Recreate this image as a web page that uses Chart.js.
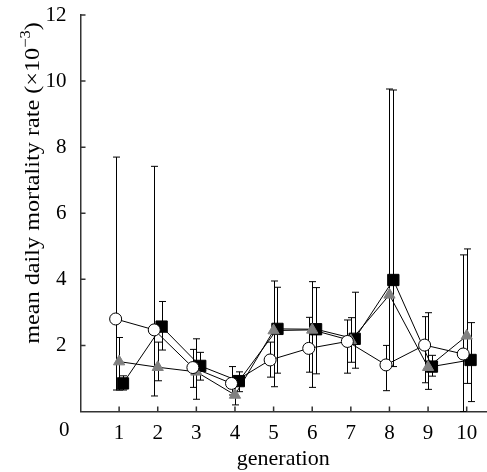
<!DOCTYPE html>
<html>
<head>
<meta charset="utf-8">
<script src="https://cdn.jsdelivr.net/npm/chart.js@4/dist/chart.umd.min.js"></script>
<style>
  body { margin: 0; background: #fff; }
  #wrap { width: 487px; height: 472px; }
</style>
</head>
<body>
<div id="wrap"><canvas id="chart" width="487" height="472"></canvas></div>
<script>
// Data (mortality rate x10^-3)
const generations = [1, 2, 3, 4, 5, 6, 7, 8, 9, 10];

const circleMean = [2.80, 2.47, 1.33, 0.85, 1.56, 1.91, 2.12, 1.41, 2.01, 1.74];
const circleLow  = [0.65, 0.47, 0.73, 0.50, 1.04, 1.19, 1.16, 0.63, 0.87, 0.00];
const circleHigh = [7.70, 7.42, 1.88, 1.36, 2.10, 2.85, 2.77, 2.00, 2.87, 4.74];

const triangleMean = [1.51, 1.34, 1.20, 0.50, 2.45, 2.47, 2.15, 3.53, 1.34, 2.29];
const triangleLow  = [0.65, 0.93, 0.37, 0.20, 0.75, 0.73, 1.49, 1.38, 0.67, 0.85];
const triangleHigh = [2.24, 2.10, 2.20, 0.90, 3.95, 3.93, 2.84, 9.76, 2.99, 4.92];

const squareMean = [0.85, 2.57, 1.38, 0.92, 2.50, 2.49, 2.20, 3.98, 1.36, 1.56];
const squareLow  = [0.65, 1.86, 0.95, 0.60, 1.16, 1.14, 1.31, 1.36, 1.07, 0.30];
const squareHigh = [1.08, 3.33, 1.79, 1.20, 3.76, 3.75, 3.61, 9.73, 1.70, 2.69];

const yTicks = [2, 4, 6, 8, 10, 12];

const FONT = "'Liberation Serif', 'DejaVu Serif', serif";

// small horizontal dodge so the three series don't sit on top of each other
function points(mean, low, high, dodge) {
    return generations.map((g, i) => ({ x: g + dodge, y: mean[i], lo: low[i], hi: high[i] }));
}

const errorBars = {
    id: 'errorBars',
    beforeDatasetsDraw(chart) {
        const { ctx, scales: { x, y } } = chart;
        ctx.save();
        ctx.strokeStyle = '#000';
        ctx.lineWidth = 1;
        chart.data.datasets.forEach(ds => {
            ds.data.forEach(p => {
                const px = Math.round(x.getPixelForValue(p.x)) + 0.5;
                const top = y.getPixelForValue(p.hi);
                const bot = y.getPixelForValue(p.lo);
                ctx.beginPath();
                ctx.moveTo(px, top);
                ctx.lineTo(px, bot);
                ctx.moveTo(px - 3.5, top);
                ctx.lineTo(px + 3.5, top);
                ctx.moveTo(px - 3.5, bot);
                ctx.lineTo(px + 3.5, bot);
                ctx.stroke();
            });
        });
        ctx.restore();
    }
};

// inward ticks, the shared origin "0" and the y title with superscript
const axisExtras = {
    id: 'axisExtras',
    afterDraw(chart) {
        const { ctx, scales: { x, y } } = chart;
        ctx.save();
        ctx.strokeStyle = '#333';
        ctx.lineWidth = 1.5;
        ctx.beginPath();
        generations.forEach(g => {
            const px = x.getPixelForValue(g);
            ctx.moveTo(px, y.bottom);
            ctx.lineTo(px, y.bottom - 5);
        });
        yTicks.forEach(v => {
            const py = y.getPixelForValue(v);
            ctx.moveTo(x.left, py);
            ctx.lineTo(x.left + 5, py);
        });
        ctx.stroke();

        ctx.fillStyle = '#000';
        ctx.font = '21px ' + FONT;
        ctx.textAlign = 'right';
        ctx.textBaseline = 'middle';
        ctx.fillText('0', x.left - 11, y.bottom + 19);

        // y title, slightly widened like the original typeface
        const main = 'mean daily mortality rate (\u00d710';
        const sup = '\u22123';
        const close = ')';
        ctx.translate(31, 183);
        ctx.rotate(-Math.PI / 2);
        ctx.scale(1.1, 1);
        ctx.textAlign = 'left';
        ctx.textBaseline = 'alphabetic';
        ctx.font = '22px ' + FONT;
        const wMain = ctx.measureText(main).width;
        const wClose = ctx.measureText(close).width;
        ctx.font = '15px ' + FONT;
        const wSup = ctx.measureText(sup).width;
        let cx = -(wMain + wSup + wClose) / 2;
        ctx.font = '22px ' + FONT;
        ctx.fillText(main, cx, 8);
        cx += wMain;
        ctx.font = '15px ' + FONT;
        ctx.fillText(sup, cx, -1);
        cx += wSup;
        ctx.font = '22px ' + FONT;
        ctx.fillText(close, cx, 8);
        ctx.restore();
    }
};

new Chart(document.getElementById('chart'), {
    type: 'scatter',
    data: {
        datasets: [
            {
                label: 'circles',
                data: points(circleMean, circleLow, circleHigh, -0.09),
                showLine: true,
                borderColor: '#000',
                borderWidth: 1,
                pointStyle: 'circle',
                pointRadius: 6,
                pointBackgroundColor: '#fff',
                pointBorderColor: '#000',
                pointBorderWidth: 1
            },
            {
                label: 'triangles',
                data: points(triangleMean, triangleLow, triangleHigh, 0),
                showLine: true,
                borderColor: '#000',
                borderWidth: 1,
                pointStyle: 'triangle',
                pointRadius: 6.5,
                pointBackgroundColor: '#808080',
                pointBorderColor: '#808080',
                pointBorderWidth: 1
            },
            {
                label: 'squares',
                data: points(squareMean, squareLow, squareHigh, 0.1),
                showLine: true,
                borderColor: '#000',
                borderWidth: 1,
                pointStyle: 'rect',
                pointRadius: 8,
                pointBackgroundColor: '#000',
                pointBorderColor: '#000',
                pointBorderWidth: 1
            }
        ]
    },
    options: {
        responsive: false,
        animation: false,
        layout: { autoPadding: false, padding: { top: 15, right: 1, left: 0, bottom: 0 } },
        plugins: {
            legend: { display: false },
            tooltip: { enabled: false }
        },
        scales: {
            x: {
                type: 'linear',
                min: 0,
                max: 10.5,
                afterFit: s => {
                    s.height = 60.5;
                    s.paddingLeft = 0;
                    s.paddingRight = 0;
                },
                grid: { display: true, drawOnChartArea: false, drawTicks: false },
                border: { display: true, color: '#333', width: 1.5 },
                ticks: {
                    stepSize: 1,
                    includeBounds: false,
                    autoSkip: false,
                    maxRotation: 0,
                    padding: 9,
                    color: '#000',
                    font: { family: FONT, size: 21 },
                    callback: v => (v >= 1 && v <= 10 && Number.isInteger(v)) ? String(v) : ''
                },
                title: {
                    display: true,
                    text: 'generation',
                    color: '#000',
                    font: { family: FONT, size: 22 },
                    padding: { top: 0, bottom: 0 }
                }
            },
            y: {
                min: 0,
                max: 12,
                afterFit: s => {
                    s.width = 80.5;
                    s.paddingTop = 0;
                    s.paddingBottom = 0;
                },
                grid: { display: true, drawOnChartArea: false, drawTicks: false },
                border: { display: true, color: '#333', width: 1.5 },
                ticks: {
                    stepSize: 2,
                    padding: 14,
                    color: '#000',
                    font: { family: FONT, size: 21 },
                    callback: v => v === 0 ? '' : String(v)
                }
            }
        }
    },
    plugins: [errorBars, axisExtras]
});
</script>
</body>
</html>
